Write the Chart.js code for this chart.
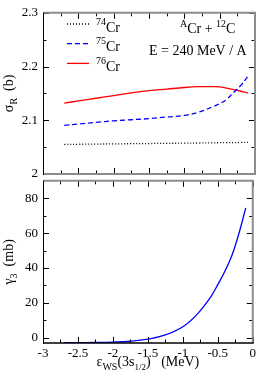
<!DOCTYPE html>
<html>
<head>
<meta charset="utf-8">
<script src="https://cdn.jsdelivr.net/npm/chart.js@4.4.0/dist/chart.umd.min.js"></script>
<style>
  html, body { margin: 0; padding: 0; background: #fff; }
  #wrap { position: relative; width: 259px; height: 379px; overflow: hidden; }
  canvas { position: absolute; left: 0; }
  #top { top: 0; }
  #bot { top: 168px; }
</style>
</head>
<body>
<div id="wrap">
  <canvas id="top" width="259" height="190"></canvas>
  <canvas id="bot" width="259" height="211"></canvas>
</div>
<script>
// eps_WS(3s1/2) in MeV
const eps = [-2.7, -2.5, -2.25, -2.0, -1.75, -1.5, -1.25, -1.0, -0.8, -0.6, -0.5, -0.4, -0.3, -0.2, -0.1];
// reaction cross sections sigma_R (b)
const sigma74 = [2.055, 2.0553, 2.0557, 2.056, 2.0564, 2.0567, 2.0571, 2.0574, 2.0577, 2.058, 2.0582, 2.0583, 2.0585, 2.0587, 2.059];
const sigma75 = [2.0905, 2.093, 2.096, 2.099, 2.101, 2.103, 2.106, 2.109, 2.115, 2.125, 2.131, 2.139, 2.152, 2.165, 2.182];
const sigma76 = [2.132, 2.136, 2.141, 2.146, 2.151, 2.155, 2.158, 2.161, 2.1625, 2.1625, 2.162, 2.160, 2.157, 2.154, 2.151];
// gamma_3 (mb)
const gamma3 = [-2.8, -2.8, -2.7, -2.5, -2.0, -0.8, 1.6, 6.3, 13.3, 23.5, 30.5, 38, 47, 59.5, 74.5];

const massNumbers = ["74", "75", "76"];
const xTicks = [-3, -2.5, -2, -1.5, -1, -0.5, 0];
const sigmaTicks = [2, 2.1, 2.2, 2.3];
const gammaTicks = [0, 20, 40, 60, 80];

const FONT = "Liberation Serif";
const GRAY = "#8c8c8c";

function pts(ys) {
  return eps.map((x, i) => ({ x: x, y: ys[i] }));
}

function minors(list) {
  return list.slice(1).map((v, i) => (v + list[i]) / 2);
}

// draws text pieces [text, size, dy] left to right from x
function drawPieces(ctx, pieces, x, y) {
  pieces.forEach(p => {
    ctx.font = p[1] + "px " + FONT;
    ctx.fillText(p[0], x, y + (p[2] || 0));
    x += ctx.measureText(p[0]).width;
  });
  return x;
}

function piecesWidth(ctx, pieces) {
  let w = 0;
  pieces.forEach(p => {
    ctx.font = p[1] + "px " + FONT;
    w += ctx.measureText(p[0]).width;
  });
  return w;
}

function hline(ctx, x1, x2, y, color, w) {
  ctx.strokeStyle = color; ctx.lineWidth = w;
  ctx.beginPath(); ctx.moveTo(x1, y); ctx.lineTo(x2, y); ctx.stroke();
}
function vline(ctx, x, y1, y2, color, w) {
  ctx.strokeStyle = color; ctx.lineWidth = w;
  ctx.beginPath(); ctx.moveTo(x, y1); ctx.lineTo(x, y2); ctx.stroke();
}

const frame = {
  id: "frame",
  afterDraw(chart, args, o) {
    const ctx = chart.ctx, a = chart.chartArea;
    const x = chart.scales.x, y = chart.scales.y;
    ctx.save();
    ctx.setLineDash([]);
    // x ticks, inside, top and bottom
    const xAll = xTicks.map(v => [v, 6]).concat(minors(xTicks).map(v => [v, 3.5]));
    xAll.forEach(t => {
      const px = Math.round(x.getPixelForValue(t[0])) + 0.5;
      vline(ctx, px, a.top, a.top + t[1], "#000", 1);
      vline(ctx, px, a.bottom, a.bottom - t[1], "#000", 1);
    });
    // y ticks, inside, left and right
    const yAll = o.ticks.map(v => [v, 6]).concat(o.minor.map(v => [v, 3.5]));
    yAll.forEach(t => {
      const py = Math.round(y.getPixelForValue(t[0])) + 0.5;
      hline(ctx, a.left, a.left + t[1], py, "#000", 1);
      hline(ctx, a.right, a.right - t[1], py, "#000", 1);
    });
    // borders
    hline(ctx, a.left, a.right + 1, a.top, GRAY, 2);
    vline(ctx, a.right, a.top, a.bottom, GRAY, 2);
    hline(ctx, a.left, a.right + 1, a.bottom, o.bottomColor, o.bottomWidth);
    vline(ctx, a.left + 0.5, a.top, a.bottom + 1, "#000", 1);

    ctx.fillStyle = "#000";
    ctx.textBaseline = "alphabetic";
    ctx.textAlign = "left";
    // rotated y title
    const yc = (a.top + a.bottom) / 2;
    ctx.save();
    ctx.translate(13, yc);
    ctx.rotate(-Math.PI / 2);
    const tw = piecesWidth(ctx, o.title);
    drawPieces(ctx, o.title, -tw / 2, 0);
    ctx.restore();
    if (o.extra) o.extra(ctx, a);
    ctx.restore();
  }
};

function legendAndLabels(ctx, a) {
  const styles = [
    { color: "#000", dash: [1, 2] },
    { color: "#0000ff", dash: [5, 3] },
    { color: "#ff0000", dash: [] }
  ];
  massNumbers.forEach((m, i) => {
    const ly = 24 + i * 19.7;
    ctx.setLineDash(styles[i].dash);
    hline(ctx, 67, 89, ly, styles[i].color, 1.3);
    ctx.setLineDash([]);
    ctx.fillStyle = "#000";
    drawPieces(ctx, [[m, 10, -7], ["Cr", 14, 0]], 96, ly + 7.7);
  });
  drawPieces(ctx, [["A", 10, -6], ["Cr + ", 14, 0], ["12", 10, -6], ["C", 14, 0]], 180, 33.3);
  drawPieces(ctx, [["E = 240 MeV / A", 14, 0]], 149, 54.5);
}

function xTitle(ctx, a) {
  const pieces = [["\u03b5", 14, 0], ["WS", 10, 3.5], ["(3s", 14, 0], ["1/2", 9, 3.5], [")", 14, 0], ["   (MeV)", 14, 0]];
  const w = piecesWidth(ctx, pieces);
  drawPieces(ctx, pieces, (a.left + a.right) / 2 - w / 2, 366 - 168);
}

function yScale(min, max, ticks) {
  return {
    type: "linear", min: min, max: max,
    afterFit(s) { s.width = 43; },
    afterBuildTicks(s) { s.ticks = ticks.map(v => ({ value: v })); },
    grid: { display: false, drawTicks: false },
    border: { display: false },
    ticks: { color: "#000", padding: 5, font: { family: FONT, size: 13 }, callback: v => String(v) }
  };
}

const lineDefaults = { pointRadius: 0, borderWidth: 1.3, fill: false, tension: 0.4 };

new Chart(document.getElementById("top"), {
  type: "line",
  data: {
    datasets: [
      Object.assign({ data: pts(sigma74), borderColor: "#000", borderDash: [1, 2] }, lineDefaults),
      Object.assign({ data: pts(sigma75), borderColor: "#0000ff", borderDash: [5, 3] }, lineDefaults),
      Object.assign({ data: pts(sigma76), borderColor: "#ff0000" }, lineDefaults)
    ]
  },
  options: {
    responsive: false,
    animation: false,
    layout: { padding: { left: 0, right: 4, top: 6, bottom: 16 } },
    plugins: {
      legend: { display: false },
      tooltip: { enabled: false },
      frame: {
        ticks: sigmaTicks, minor: minors(sigmaTicks), bottomColor: GRAY, bottomWidth: 2,
        title: [["\u03c3", 14, 0], ["R", 10, 3.5], ["  (b)", 14, 0]],
        extra: legendAndLabels
      }
    },
    scales: {
      x: { type: "linear", min: -3, max: 0, display: false },
      y: yScale(2, 2.3, sigmaTicks)
    }
  },
  plugins: [frame]
});

new Chart(document.getElementById("bot"), {
  type: "line",
  data: {
    datasets: [
      Object.assign({ data: pts(gamma3), borderColor: "#0000ff" }, lineDefaults)
    ]
  },
  options: {
    responsive: false,
    animation: false,
    layout: { padding: { left: 0, right: 4, top: 6, bottom: 0 } },
    plugins: {
      legend: { display: false },
      tooltip: { enabled: false },
      frame: {
        ticks: gammaTicks, minor: minors(gammaTicks), bottomColor: "#000", bottomWidth: 1.3,
        title: [["\u03b3", 14, 0], ["3", 10, 3.5], ["  (mb)", 14, 0]],
        extra: xTitle
      }
    },
    scales: {
      x: {
        type: "linear", min: -3, max: 0,
        afterFit(s) { s.height = 36; },
        afterBuildTicks(s) { s.ticks = xTicks.map(v => ({ value: v })); },
        grid: { display: false, drawTicks: false },
        border: { display: false },
        ticks: { color: "#000", padding: 3, maxRotation: 0, font: { family: FONT, size: 13 }, callback: v => String(v) }
      },
      y: yScale(-3, 90, gammaTicks)
    }
  },
  plugins: [frame]
});
</script>
</body>
</html>
